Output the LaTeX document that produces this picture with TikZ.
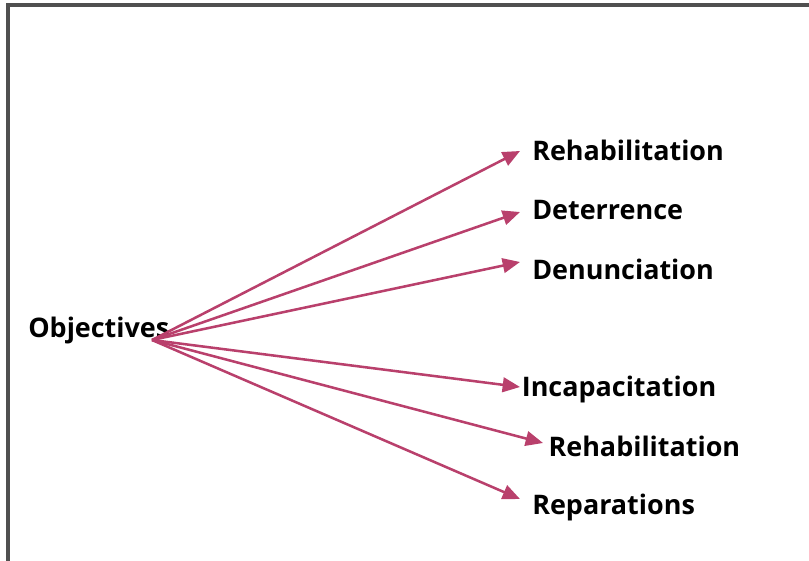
\documentclass[tikz,border=0pt]{standalone}
\usepackage{fontspec}
\setmainfont{Open Sans}
\usetikzlibrary{arrows.meta}
\definecolor{aim}{HTML}{B9406C}
\definecolor{frame}{HTML}{505050}

\begin{document}
\begin{tikzpicture}[x=0.75pt,y=0.75pt,
  goal/.style={anchor=west,font=\fontsize{20.2}{24}\selectfont\bfseries,inner xsep=9pt,inner ysep=2pt},
  link/.style={aim,line width=1.9pt,-{Triangle[length=13pt,width=11pt]}},
]
  \useasboundingbox (0,0) rectangle (809,560);
  \begin{scope}
    \clip (0,0) rectangle (809,560);
    \draw[frame,line width=2.6pt] (8,-20) -- (8,555) -- (830,555);
  \end{scope}

  \node[goal,inner xsep=0pt] (obj) at (28,229) {Objectives};
  \coordinate (hub) at (152,220);

  \node[goal] (reh) at (520,410) {Rehabilitation};
  \node[goal] (det) at (520,350) {Deterrence};
  \node[goal] (den) at (520,291) {Denunciation};
  \node[goal,inner xsep=1.2pt] (inc) at (520,170) {Incapacitation};
  \node[goal,inner xsep=4pt] (reh2) at (543,114) {Rehabilitation};
  \node[goal] (rep) at (520,52) {Reparations};

  % arrow ends are nudged onto the tips of the original
  \foreach \g/\dy in {reh/-1,det/-2,den/7,inc/3,reh2/3,rep/9}
    \draw[link] (hub) -- ([yshift=\dy*0.75pt]\g.west);
\end{tikzpicture}
\end{document}
